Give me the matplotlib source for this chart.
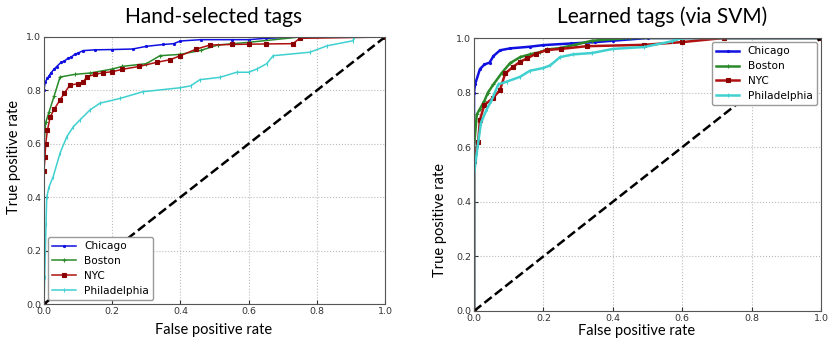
import numpy as np
import matplotlib
matplotlib.use("Agg")
import matplotlib.pyplot as plt

# ROC points (fpr, tpr)
hand_chicago_fpr = [0.0, 0.0, 0.003, 0.01, 0.015, 0.02, 0.03, 0.037, 0.05, 0.06, 0.07, 0.08, 0.09, 0.1, 0.115, 0.15, 0.2, 0.26, 0.3, 0.35, 0.38, 0.4, 0.46, 0.55, 0.6, 0.65, 0.75, 1.0]
hand_chicago_tpr = [0.0, 0.8, 0.83, 0.845, 0.855, 0.865, 0.88, 0.889, 0.905, 0.91, 0.92, 0.925, 0.935, 0.94, 0.949, 0.952, 0.953, 0.955, 0.965, 0.972, 0.975, 0.985, 0.99, 0.99, 0.99, 0.995, 1.0, 1.0]

hand_boston_fpr = [0.0, 0.0, 0.005, 0.015, 0.03, 0.047, 0.09, 0.135, 0.2, 0.23, 0.3, 0.34, 0.4, 0.46, 0.51, 0.6, 0.75, 1.0]
hand_boston_tpr = [0.0, 0.6, 0.68, 0.72, 0.78, 0.85, 0.86, 0.865, 0.88, 0.89, 0.9, 0.93, 0.935, 0.95, 0.97, 0.98, 1.0, 1.0]

hand_nyc_fpr = [0.0, 0.0, 0.003, 0.005, 0.01, 0.018, 0.03, 0.047, 0.06, 0.076, 0.1, 0.115, 0.125, 0.15, 0.173, 0.2, 0.23, 0.28, 0.33, 0.37, 0.4, 0.447, 0.487, 0.55, 0.6, 0.65, 0.73, 0.75, 1.0]
hand_nyc_tpr = [0.0, 0.5, 0.55, 0.6, 0.65, 0.70, 0.73, 0.764, 0.79, 0.82, 0.825, 0.83, 0.851, 0.86, 0.866, 0.87, 0.879, 0.89, 0.905, 0.915, 0.93, 0.955, 0.97, 0.972, 0.973, 0.974, 0.975, 0.995, 1.0]

hand_phil_fpr = [0.0, 0.002, 0.004, 0.006, 0.008, 0.015, 0.027, 0.047, 0.067, 0.086, 0.106, 0.135, 0.164, 0.223, 0.29, 0.4, 0.43, 0.457, 0.516, 0.565, 0.6, 0.624, 0.653, 0.672, 0.78, 0.83, 0.906, 0.91, 1.0]
hand_phil_tpr = [0.0, 0.1, 0.2, 0.3, 0.4, 0.44, 0.477, 0.565, 0.627, 0.664, 0.69, 0.727, 0.752, 0.77, 0.795, 0.81, 0.817, 0.84, 0.849, 0.868, 0.868, 0.88, 0.90, 0.93, 0.943, 0.967, 0.986, 1.0, 1.0]

svm_chicago_fpr = [0.0, 0.0, 0.003, 0.017, 0.03, 0.045, 0.056, 0.075, 0.104, 0.16, 0.2, 0.28, 0.35, 0.4, 0.5, 1.0]
svm_chicago_tpr = [0.0, 0.8, 0.83, 0.886, 0.903, 0.91, 0.934, 0.955, 0.962, 0.968, 0.974, 0.98, 0.985, 0.99, 1.0, 1.0]

svm_boston_fpr = [0.0, 0.0, 0.008, 0.017, 0.03, 0.04, 0.056, 0.08, 0.104, 0.133, 0.161, 0.19, 0.21, 0.248, 0.29, 0.34, 0.45, 1.0]
svm_boston_tpr = [0.0, 0.6, 0.72, 0.74, 0.77, 0.80, 0.83, 0.872, 0.908, 0.93, 0.94, 0.948, 0.958, 0.963, 0.975, 0.99, 1.0, 1.0]

svm_nyc_fpr = [0.0, 0.0, 0.012, 0.017, 0.03, 0.055, 0.075, 0.09, 0.113, 0.133, 0.152, 0.18, 0.21, 0.25, 0.325, 0.49, 0.6, 0.72, 1.0]
svm_nyc_tpr = [0.0, 0.55, 0.618, 0.70, 0.755, 0.78, 0.81, 0.87, 0.895, 0.913, 0.925, 0.943, 0.956, 0.96, 0.97, 0.975, 0.985, 1.0, 1.0]

svm_phil_fpr = [0.0, 0.0, 0.008, 0.02, 0.037, 0.05, 0.07, 0.094, 0.133, 0.161, 0.2, 0.22, 0.248, 0.286, 0.34, 0.4, 0.49, 0.57, 0.6, 1.0]
svm_phil_tpr = [0.0, 0.5, 0.58, 0.689, 0.74, 0.77, 0.83, 0.84, 0.858, 0.88, 0.89, 0.90, 0.93, 0.94, 0.945, 0.96, 0.967, 0.988, 1.0, 1.0]

cities = ["Chicago", "Boston", "NYC", "Philadelphia"]
colors = ["#1010e0", "#2a8a2a", "#b01010", "#40d0d0"]
markers = [".", "+", "s", "|"]

hand = [(hand_chicago_fpr, hand_chicago_tpr), (hand_boston_fpr, hand_boston_tpr),
        (hand_nyc_fpr, hand_nyc_tpr), (hand_phil_fpr, hand_phil_tpr)]
svm = [(svm_chicago_fpr, svm_chicago_tpr), (svm_boston_fpr, svm_boston_tpr),
       (svm_nyc_fpr, svm_nyc_tpr), (svm_phil_fpr, svm_phil_tpr)]

fig = plt.figure(figsize=(8.39, 3.39), dpi=100)
ax1 = fig.add_axes([44 / 839, 35 / 339, 341 / 839, 267 / 339])
ax2 = fig.add_axes([474 / 839, 28 / 339, 347 / 839, 273 / 339])

def draw(ax, curves, lw, legend_loc):
    for (fpr, tpr), name, col, mk in zip(curves, cities, colors, markers):
        ms = {".": 3, "+": 3, "s": 3.4, "|": 3}[mk]
        ec = "#8b0000" if mk == "s" else col
        ax.plot(fpr, tpr, color=col, lw=lw, marker=mk, ms=ms, mec=ec, mfc=ec,
                mew=0.8, label=name)
    ax.plot([0, 1], [0, 1], "k--", lw=1.8)
    ax.set_xlim(0, 1)
    ax.set_ylim(0, 1)
    ax.set_xticks(np.arange(0, 1.01, 0.2))
    ax.set_yticks(np.arange(0, 1.01, 0.2))
    ax.tick_params(labelsize=6.8, colors="#333333", length=3, direction="in", pad=2)
    ax.grid(True, linestyle=":", color="#bbbbbb", lw=0.8)
    for s in ax.spines.values():
        s.set_color("#555555")
    leg = ax.legend(loc=legend_loc, fontsize=7.6, handlelength=2.2, borderaxespad=0.4,
                    labelspacing=0.45, fancybox=True, framealpha=1)
    leg.get_frame().set_edgecolor("#999999")

draw(ax1, hand, 1.1, "lower left")
draw(ax2, svm, 1.8, "upper right")

tfont = "Lato"
fig.text(214 / 839, 1 - 17 / 339, "Hand-selected tags", ha="center", va="center", fontsize=15, family=tfont)
fig.text(662 / 839, 1 - 17 / 339, "Learned tags (via SVM)", ha="center", va="center", fontsize=15, family=tfont)
fig.text(214 / 839, 1 - 330 / 339, "False positive rate", ha="center", va="center", fontsize=10.5, family=tfont)
fig.text(637 / 839, 1 - 331 / 339, "False positive rate", ha="center", va="center", fontsize=10.5, family=tfont)
fig.text(14 / 839, 1 - 157 / 339, "True positive rate", ha="center", va="center", fontsize=10.5, rotation=90, family=tfont)
fig.text(440 / 839, 1 - 220 / 339, "True positive rate", ha="center", va="center", fontsize=10.5, rotation=90, family=tfont)

fig.savefig("out.png", dpi=100)
